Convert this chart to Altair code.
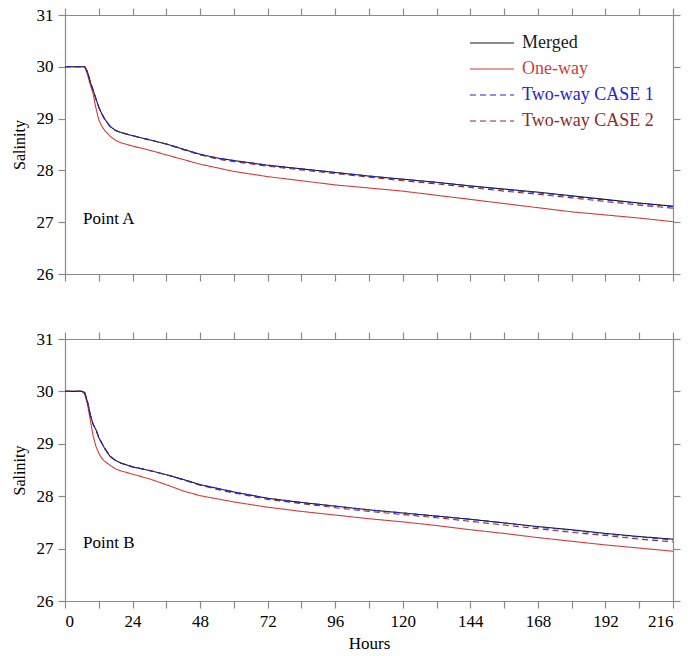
import altair as alt
import pandas as pd

# ---------------- data ----------------
hours = [0, 6, 7, 8, 9, 10, 11, 12, 13, 14, 16, 18, 20, 24, 30, 36, 42, 48, 54, 60,
         72, 84, 96, 108, 120, 132, 144, 156, 168, 180, 192, 204, 216]

a_merged = [30.0, 30.0, 30.0, 29.9, 29.7, 29.55, 29.38, 29.22, 29.1, 29.0, 28.85, 28.77, 28.73,
            28.67, 28.59, 28.51, 28.41, 28.31, 28.24, 28.19, 28.10, 28.03, 27.96, 27.89, 27.83,
            27.77, 27.70, 27.64, 27.58, 27.51, 27.44, 27.37, 27.31]
a_oneway = [30.0, 30.0, 30.0, 29.85, 29.65, 29.48, 29.2, 28.98, 28.86, 28.78, 28.66, 28.58, 28.53,
            28.47, 28.39, 28.30, 28.21, 28.12, 28.05, 27.98, 27.88, 27.80, 27.72, 27.66, 27.60,
            27.52, 27.44, 27.36, 27.28, 27.20, 27.14, 27.08, 27.01]
a_case1 = [30.0, 30.0, 30.0, 29.9, 29.7, 29.55, 29.38, 29.22, 29.1, 29.0, 28.85, 28.77, 28.73,
           28.67, 28.59, 28.51, 28.41, 28.31, 28.24, 28.19, 28.10, 28.03, 27.96, 27.89, 27.83,
           27.77, 27.70, 27.63, 27.57, 27.50, 27.43, 27.36, 27.30]
a_case2 = [30.0, 30.0, 30.0, 29.9, 29.7, 29.55, 29.38, 29.22, 29.1, 29.0, 28.85, 28.77, 28.73,
           28.67, 28.59, 28.51, 28.40, 28.30, 28.22, 28.17, 28.08, 28.01, 27.94, 27.87, 27.80,
           27.74, 27.67, 27.60, 27.54, 27.47, 27.40, 27.33, 27.27]

b_merged = [30.0, 30.0, 29.98, 29.8, 29.55, 29.37, 29.27, 29.12, 29.02, 28.92, 28.76, 28.68, 28.63,
            28.56, 28.49, 28.41, 28.32, 28.22, 28.15, 28.08, 27.96, 27.88, 27.81, 27.74, 27.68,
            27.62, 27.56, 27.49, 27.42, 27.36, 27.29, 27.23, 27.18]
b_oneway = [30.0, 30.0, 29.95, 29.75, 29.45, 29.15, 28.95, 28.82, 28.73, 28.67, 28.59, 28.52, 28.48,
            28.42, 28.33, 28.22, 28.10, 28.01, 27.95, 27.89, 27.79, 27.71, 27.64, 27.57, 27.51,
            27.44, 27.36, 27.29, 27.21, 27.14, 27.07, 27.01, 26.95]
b_case1 = [30.0, 30.0, 29.98, 29.8, 29.55, 29.37, 29.27, 29.12, 29.02, 28.92, 28.76, 28.68, 28.63,
           28.56, 28.49, 28.41, 28.32, 28.22, 28.15, 28.08, 27.96, 27.88, 27.81, 27.74, 27.68,
           27.62, 27.56, 27.49, 27.41, 27.35, 27.28, 27.22, 27.17]
b_case2 = [30.0, 30.0, 29.98, 29.8, 29.55, 29.37, 29.27, 29.12, 29.02, 28.92, 28.76, 28.68, 28.63,
           28.56, 28.49, 28.41, 28.31, 28.21, 28.13, 28.06, 27.94, 27.86, 27.78, 27.71, 27.65,
           27.59, 27.52, 27.45, 27.38, 27.31, 27.25, 27.18, 27.13]

series_names = ["Merged", "One-way", "Two-way CASE 1", "Two-way CASE 2"]
series_colors = ["#1a1a1a", "#d23c3c", "#2424d0", "#8a2c2c"]
series_dash = [[1, 0], [1, 0], [6, 4], [6, 4]]
draw_order = ["One-way", "Merged", "Two-way CASE 2", "Two-way CASE 1"]

x_ticks = list(range(0, 217, 12))
y_ticks = [26, 27, 28, 29, 30, 31]

FONT = "Liberation Serif"


def make_df(merged, oneway, case1, case2):
    vals = {"Merged": merged, "One-way": oneway,
            "Two-way CASE 1": case1, "Two-way CASE 2": case2}
    rows = []
    for k, name in enumerate(draw_order):
        for h, v in zip(hours, vals[name]):
            rows.append({"hour": h, "salinity": v, "series": name, "ord": k})
    return pd.DataFrame(rows)


def panel(df, label, bottom_labels, height, with_legend):
    xscale = alt.Scale(domain=[0, 216], nice=False)
    yscale = alt.Scale(domain=[26, 31], nice=False, zero=False)
    lines = alt.Chart(df).mark_line(strokeWidth=1.1, clip=True).encode(
        x=alt.X("hour:Q", scale=xscale,
                axis=alt.Axis(orient="bottom", values=x_ticks, labels=bottom_labels,
                              labelExpr="datum.value % 24 == 0 ? datum.label : ''",
                              title="Hours" if bottom_labels else None)),
        y=alt.Y("salinity:Q", scale=yscale,
                axis=alt.Axis(orient="left", values=y_ticks, title="Salinity",
                              titleFontSize=16, titlePadding=9)),
        color=alt.Color("series:N", scale=alt.Scale(domain=series_names, range=series_colors),
                        legend=None),
        strokeDash=alt.StrokeDash("series:N",
                                  scale=alt.Scale(domain=series_names, range=series_dash),
                                  legend=None),
        detail="ord:O",
    )
    frame = alt.Chart(df).mark_line(opacity=0).encode(
        x=alt.X("hour:Q", scale=xscale,
                axis=alt.Axis(orient="top", values=x_ticks, labels=False, title=None)),
        y=alt.Y("salinity:Q", scale=yscale,
                axis=alt.Axis(orient="right", values=y_ticks, labels=False, title=None)),
    )
    point = alt.Chart(pd.DataFrame({"t": [label]})).mark_text(
        align="left", baseline="middle", font=FONT, fontSize=17, color="#000"
    ).encode(text="t:N", x=alt.value(18), y=alt.value(204))
    layers = [lines, frame, point]
    if with_legend:
        for i, (name, col, dash) in enumerate(zip(series_names, series_colors, series_dash)):
            one = pd.DataFrame({"t": [name]})
            yy = 28 + 26 * i
            layers.append(alt.Chart(one).mark_rule(strokeWidth=1.1, color=col, strokeDash=dash)
                          .encode(x=alt.value(405), x2=alt.value(449), y=alt.value(yy)))
            layers.append(alt.Chart(one).mark_text(align="left", baseline="middle", font=FONT,
                                                   fontSize=18, color=col)
                          .encode(text="t:N", x=alt.value(457), y=alt.value(yy)))
    return alt.layer(*layers).resolve_axis(x="independent", y="independent").properties(
        width=608, height=height)


top = panel(make_df(a_merged, a_oneway, a_case1, a_case2), "Point A", False, 259, True)
bottom = panel(make_df(b_merged, b_oneway, b_case1, b_case2), "Point B", True, 262, False)

chart = alt.vconcat(top, bottom, spacing=48).properties(
    padding={"left": 11, "top": 6, "right": 5, "bottom": 5}
).configure_view(stroke=None).configure_axis(
    grid=False, domainColor="#8a8a8a", tickColor="#8a8a8a", tickSize=7,
    domainWidth=1.2, tickWidth=1.2,
    labelFont=FONT, labelFontSize=17, labelColor="#000", labelPadding=5,
    titleFont=FONT, titleFontSize=17, titleFontWeight="normal", titleColor="#000",
    titlePadding=6,
)

chart.save("out.html", embed_options={"renderer": "svg", "actions": False})
